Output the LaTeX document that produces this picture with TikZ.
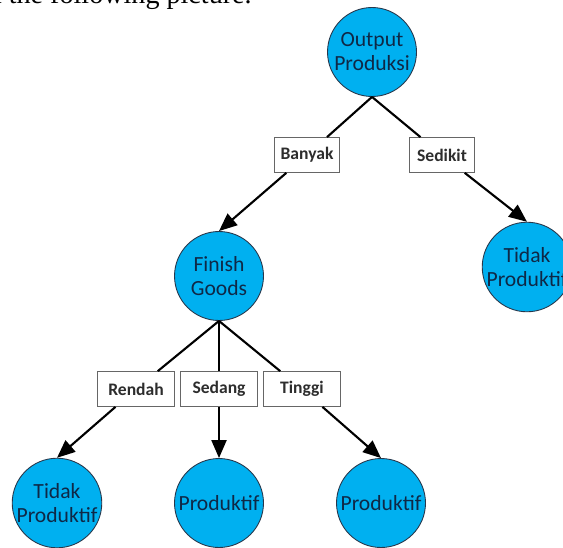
\documentclass[tikz,border=0pt]{standalone}
\usepackage{fontspec}
\setmainfont{Carlito}
\newfontfamily\bodyfont{Liberation Serif}
\usetikzlibrary{arrows.meta}
\definecolor{nodeblue}{RGB}{0,176,240}
\definecolor{nodeline}{RGB}{40,55,75}
\definecolor{nodetext}{RGB}{15,40,70}
\definecolor{boxtext}{RGB}{45,45,45}
\begin{document}
\begin{tikzpicture}[x=0.02cm,y=-0.02cm,
 attr/.style={circle,draw=nodeline,line width=0.5pt,fill=nodeblue,minimum size=1.78cm,inner sep=0pt,align=center,text=nodetext,font=\fontsize{12.3}{13.6}\selectfont},
 cond/.style={rectangle,draw=black!60,line width=0.7pt,fill=white,minimum width=1.54cm,minimum height=0.69cm,inner sep=2pt,text=boxtext,font=\fontsize{10}{12}\selectfont\bfseries},
 link/.style={line width=1.2pt},
 arr/.style={line width=1.2pt,-{Triangle[length=0.36cm,width=0.3cm]}}]
 \useasboundingbox (0,0) rectangle (563,547);
 \node[anchor=base east,inner sep=0pt,font=\bodyfont\fontsize{16}{19}\selectfont] (intro) at (252,4) {in the following picture.};
 \node[attr] (out) at (372,52) {Output\\Produksi};
 \node[attr] (fg) at (219,276) {Finish\\Goods};
 \node[attr] (tp1) at (527,267) {Tidak\\Produktif};
 \node[attr] (tp2) at (57,503) {Tidak\\Produktif};
 \node[attr] (pr1) at (219,503) {Produktif};
 \node[attr] (pr2) at (381,503) {Produktif};
 \node[cond,minimum width=1.3cm] (banyak) at (307,155) {Banyak};
 \node[cond,minimum width=1.3cm] (sedikit) at (442,155) {Sedikit};
 \node[cond] (rendah) at (136,389) {Rendah};
 \node[cond] (sedang) at (219,389) {Sedang};
 \node[cond] (tinggi) at (302,389) {Tinggi};
 \draw[link] (out.south) -- (banyak);
 \draw[arr] (banyak) -- (fg.north);
 \draw[link] (out.south) -- (sedikit);
 \draw[arr] (sedikit) -- (tp1.north);
 \draw[link] (fg.south) -- (rendah);
 \draw[arr] (rendah) -- (tp2.north);
 \draw[link] (fg.south) -- (sedang);
 \draw[arr] (sedang) -- (pr1.north);
 \draw[link] (fg.south) -- (tinggi);
 \draw[arr] (tinggi) -- (pr2.north);
\end{tikzpicture}
\end{document}
